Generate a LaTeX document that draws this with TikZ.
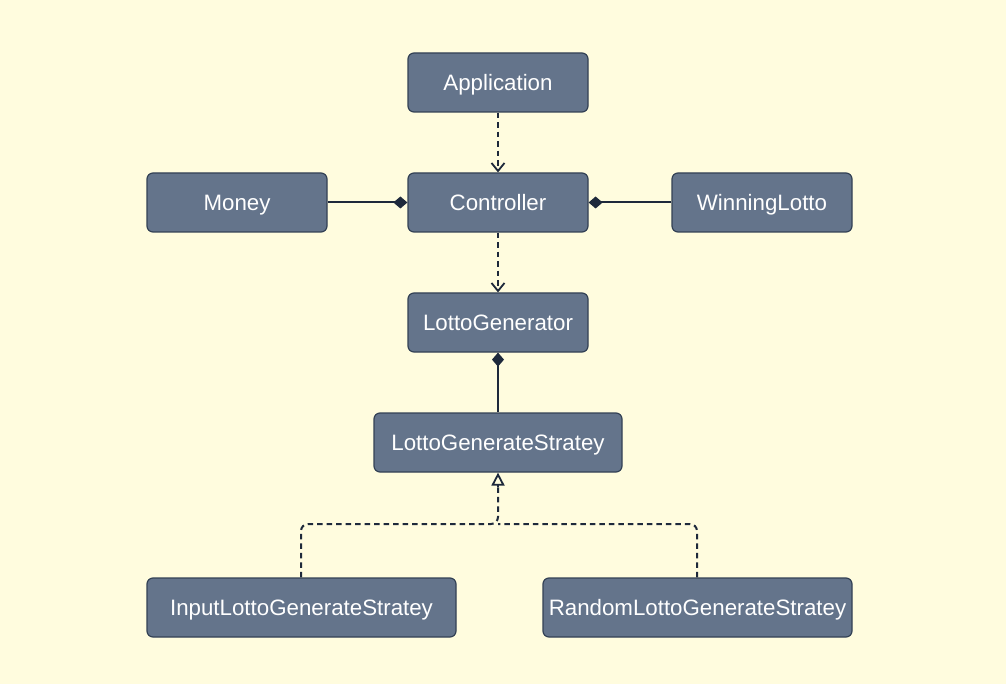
\documentclass[tikz,border=0pt]{standalone}
\usepackage{fontspec}
\setmainfont{Liberation Sans}
\usetikzlibrary{arrows.meta}
\definecolor{bg}{HTML}{FFFCDE}
\definecolor{boxfill}{HTML}{64748B}
\definecolor{boxline}{HTML}{334155}
\definecolor{linec}{HTML}{1E293B}
\begin{document}
\begin{tikzpicture}[x=1pt,y=-1pt,
  cls/.style={draw=boxline, fill=boxfill, line width=1.2pt, rounded corners=6pt,
    text=white, minimum height=59pt, inner sep=0pt,
    text height=20pt, text depth=4.1pt,
    font=\fontsize{22.3}{26}\selectfont},
  link/.style={draw=linec, line width=2pt},
  dep/.style={link, dash pattern=on 5.5pt off 4pt, -{Straight Barb[length=8pt,width=13pt,line width=1.8pt]}},
  comp/.style={link, -{Diamond[length=14pt,width=12pt]}},
  real/.style={link, dash pattern=on 5.5pt off 4pt, rounded corners=7pt}
]
\fill[bg] (0,0) rectangle (1006,684);
\useasboundingbox (0,0) rectangle (1006,684);
\node[cls, minimum width=180pt] (app) at (498,82.5) {Application};
\node[cls, minimum width=180pt] (money) at (237,202.5) {Money};
\node[cls, minimum width=180pt] (ctrl) at (498,202.5) {Controller};
\node[cls, minimum width=180pt] (win) at (762,202.5) {WinningLotto};
\node[cls, minimum width=180pt] (gen) at (498,322.5) {LottoGenerator};
\node[cls, minimum width=248pt] (strat) at (498,442.5) {LottoGenerateStratey};
\node[cls, minimum width=309pt] (inp) at (301.5,607.5) {InputLottoGenerateStratey};
\node[cls, minimum width=309pt] (rnd) at (697.5,607.5) {RandomLottoGenerateStratey};

\draw[dep] (app.south) -- (ctrl.north);
\draw[dep] (ctrl.south) -- (gen.north);
\draw[comp] (money.east) -- (ctrl.west);
\draw[comp] (win.west) -- (ctrl.east);
\draw[comp] (strat.north) -- (gen.south);

\coordinate (join) at (498,524);
\draw[real] (inp.north -| 301,0) -- (301,524) -- (join) -- (498,486);
\draw[real] (rnd.north -| 697,0) -- (697,524) -- (join);
\draw[link, -{Triangle[open,length=13pt,width=13pt,line width=1.8pt]}] (498,487) -- (strat.south);
\end{tikzpicture}
\end{document}
